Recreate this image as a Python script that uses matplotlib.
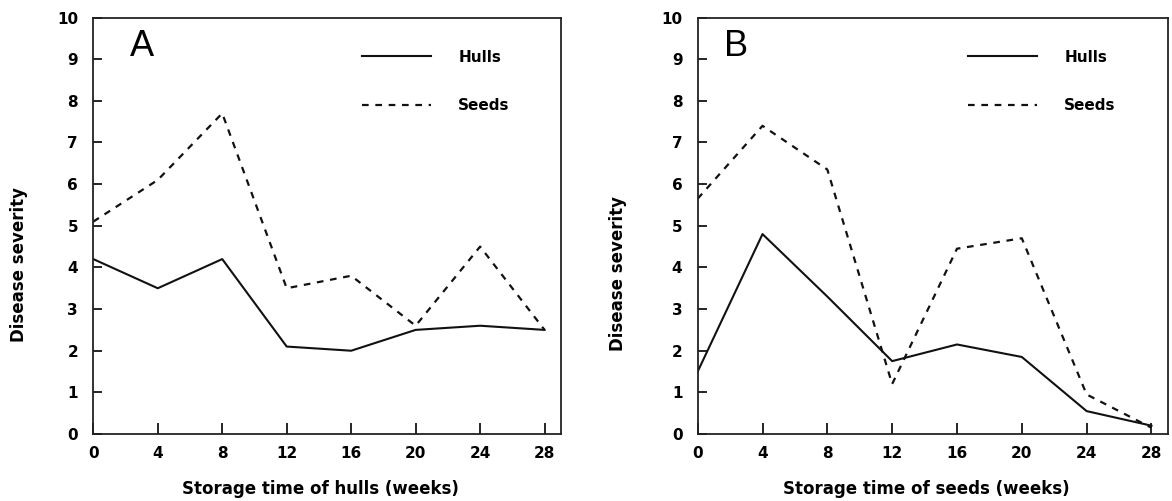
import matplotlib
matplotlib.use("Agg")
import matplotlib.pyplot as plt

# ==========================================
# Data
# ==========================================

weeks = [0, 4, 8, 12, 16, 20, 24, 28]

# Panel A - storage time of hulls
a_hulls = [4.2, 3.5, 4.2, 2.1, 2.0, 2.5, 2.6, 2.5]
a_seeds = [5.1, 6.1, 7.7, 3.5, 3.8, 2.6, 4.5, 2.5]

# Panel B - storage time of seeds
b_hulls = [1.5, 4.8, 3.3, 1.75, 2.15, 1.85, 0.55, 0.2]
b_seeds = [5.65, 7.4, 6.35, 1.2, 4.45, 4.7, 0.95, 0.15]

y_ticks = [0, 1, 2, 3, 4, 5, 6, 7, 8, 9, 10]

panels = [
    ("A", a_hulls, a_seeds, "Storage time of hulls (weeks)", 0.1035, 0.139, 0.407),
    ("B", b_hulls, b_seeds, "Storage time of seeds (weeks)", 0.081, 0.151, 0.386),
]

# ==========================================
# Style
# ==========================================

plt.rcParams["font.family"] = ["DejaVu Sans"]
plt.rcParams["font.weight"] = "bold"
plt.rcParams["font.size"] = 11

fig = plt.figure(figsize=(11.72, 5.01), dpi=100)
positions = [
    [0.0796, 0.1337, 0.3988, 0.8313],
    [0.5953, 0.1337, 0.4010, 0.8313],
]

for pos, (letter, hulls, seeds, xlabel, lx, ylx, yly) in zip(positions, panels):
    ax = fig.add_axes(pos)

    ax.plot(weeks, hulls, color="#111111", lw=1.5, label="Hulls")
    ax.plot(weeks, seeds, color="#111111", lw=1.6, linestyle=(0, (3, 3)), label="Seeds")

    ax.set_xlim(0, 29)
    ax.set_ylim(0, 10)
    ax.set_xticks(weeks)
    ax.set_yticks(y_ticks)

    ax.tick_params(axis="x", direction="in", length=8, width=1.2, pad=8.5)
    ax.tick_params(axis="y", direction="in", length=6.5, width=1.2, pad=11)
    for side in ax.spines.values():
        side.set_linewidth(1.3)
        side.set_color("#222222")

    ax.set_xlabel(xlabel, fontweight="bold", fontsize=12)
    ax.set_ylabel("Disease severity", fontweight="bold", fontsize=12)
    ax.xaxis.set_label_coords(0.487, -0.11)
    ax.yaxis.set_label_coords(-ylx, yly)

    ax.text(lx, 0.931, letter, transform=ax.transAxes, fontsize=26,
            fontweight="normal", family="Liberation Sans",
            ha="center", va="center")

    ax.legend(loc="upper left", bbox_to_anchor=(0.575, 0.923), frameon=False,
              borderpad=0, borderaxespad=0, handlelength=4.5,
              handletextpad=1.8, labelspacing=2.2)

fig.savefig("out.png", dpi=100)
